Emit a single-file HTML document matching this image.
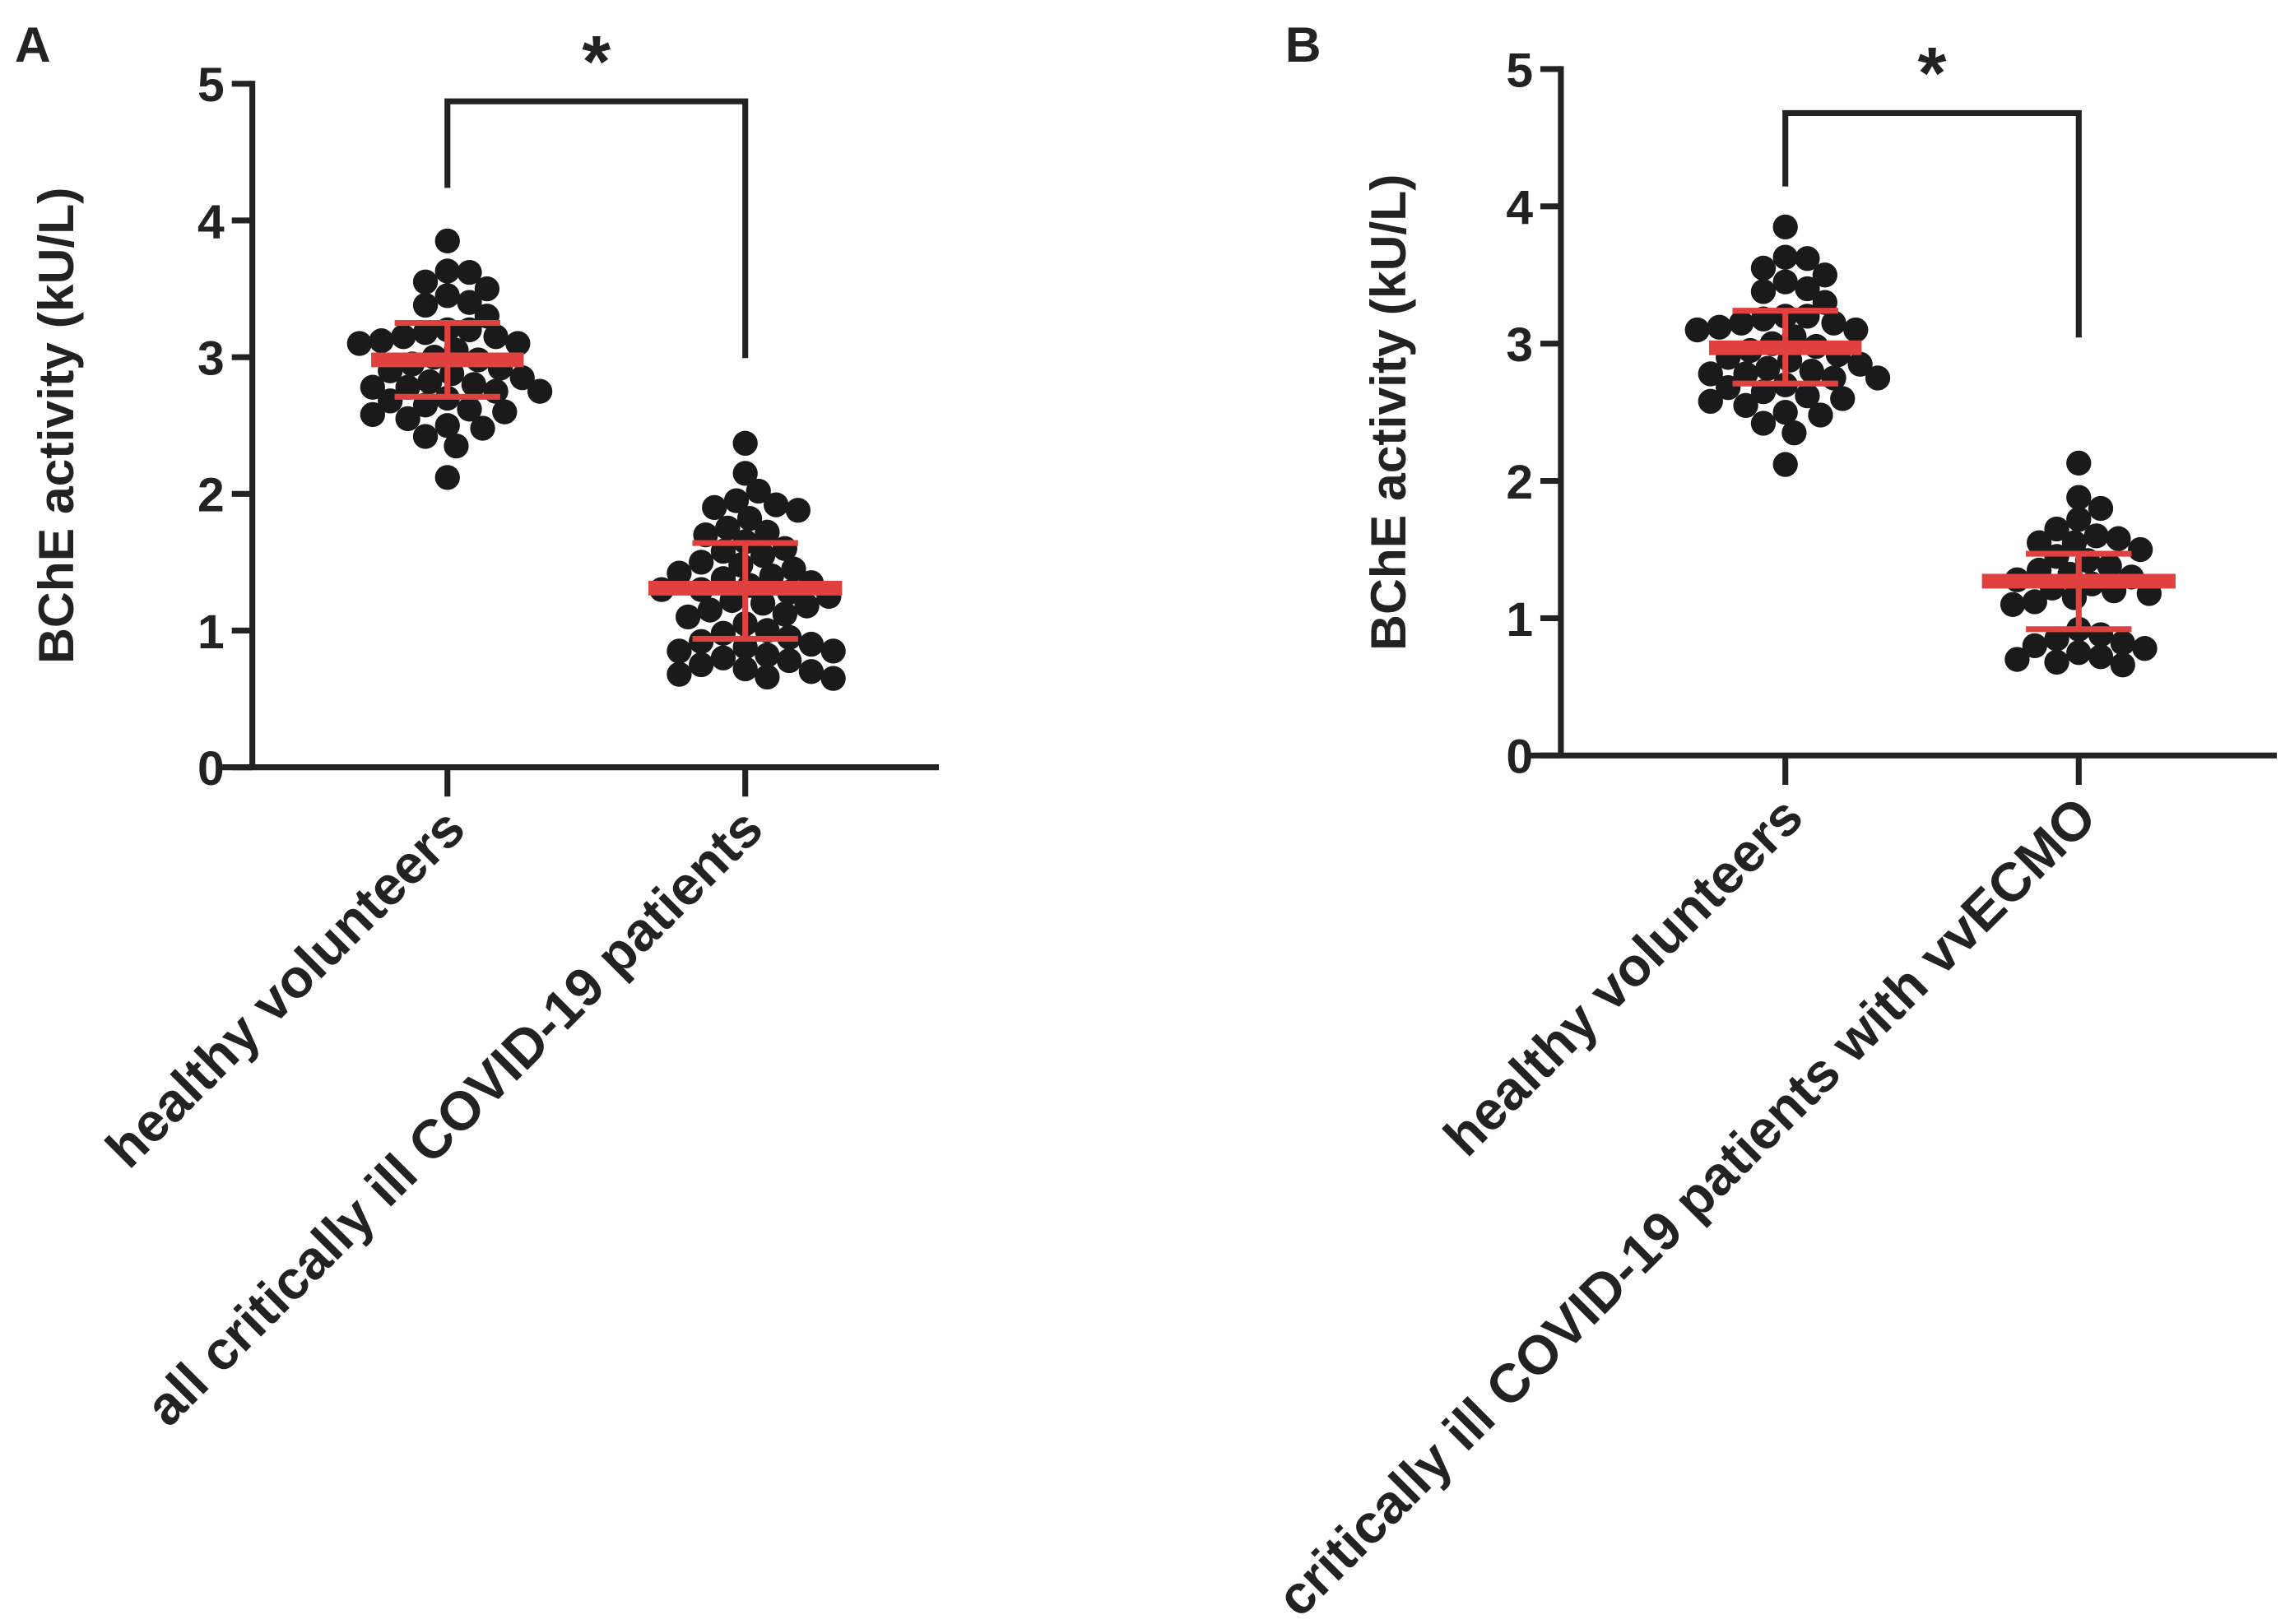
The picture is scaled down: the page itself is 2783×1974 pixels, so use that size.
<!DOCTYPE html>
<html><head><meta charset="utf-8"><style>
html,body{margin:0;padding:0;background:#fff}
svg{display:block}
text{font-family:"Liberation Sans",Arial,sans-serif;fill:#222}
</style></head><body>
<svg id="chart" width="2783" height="1974" viewBox="0 0 1561 1107" xmlns="http://www.w3.org/2000/svg"></svg>
<script>
const categoriesA = ["healthy volunteers", "all critically ill COVID-19 patients"];
const categoriesB = ["healthy volunteers", "critically ill COVID-19 patients with vvECMO"];
const yTicks = [0, 1, 2, 3, 4, 5];
const healthyValues = [3.85,3.63,3.62,3.55,3.5,3.45,3.4,3.38,3.3,3.2,3.2,3.18,3.15,3.15,3.12,3.1,3.1,3.05,3.0,2.98,2.95,2.92,2.9,2.88,2.85,2.82,2.8,2.78,2.78,2.75,2.75,2.7,2.68,2.65,2.62,2.6,2.58,2.55,2.5,2.48,2.42,2.35,2.12];
const covidAllValues = [2.37,2.15,2.02,1.95,1.92,1.9,1.88,1.82,1.75,1.72,1.7,1.65,1.6,1.58,1.55,1.5,1.48,1.45,1.42,1.4,1.38,1.35,1.33,1.3,1.3,1.28,1.25,1.22,1.2,1.18,1.15,1.12,1.1,1.05,1.0,0.98,0.95,0.92,0.9,0.88,0.85,0.85,0.82,0.8,0.78,0.75,0.72,0.7,0.68,0.66,0.65];
const ecmoValues = [2.13,1.88,1.8,1.72,1.65,1.6,1.58,1.55,1.55,1.5,1.45,1.42,1.38,1.35,1.32,1.3,1.28,1.25,1.22,1.2,1.18,1.15,1.12,1.1,0.92,0.88,0.85,0.82,0.8,0.78,0.75,0.72,0.7,0.68,0.66];
const meansA = [2.98, 1.31];
const sdLowA = [2.71, 0.94];
const sdHighA = [3.25, 1.64];
const meansB = [2.97, 1.27];
const sdLowB = [2.71, 0.92];
const sdHighB = [3.24, 1.47];

const NS = "http://www.w3.org/2000/svg";
const svg = document.getElementById('chart');
function mk(tag, attrs, parent, txt){
  const e = document.createElementNS(NS, tag);
  for (const k in attrs) e.setAttribute(k, attrs[k]);
  if (txt !== undefined) e.textContent = txt;
  (parent || svg).appendChild(e);
  return e;
}
function swarm(vals, yf, r){
  const placed = [];
  const sorted = vals.slice().sort((a,b)=>b-a);
  for (const v of sorted){
    const y = yf(v);
    let off = 0;
    for (let k = 0; k < 200; k++){
      const cand = k === 0 ? 0 : (k % 2 ? 1 : -1) * Math.ceil(k/2) * 3;
      if (placed.every(p => Math.hypot(p.x - cand, p.y - y) >= 2*r*0.85)) { off = cand; break; }
    }
    placed.push({x: off, y: y, v: v});
  }
  return placed;
}
function panel(opt){
  const g = mk('g', {}, svg);
  
  
  const y = v => opt.y0 - v * (opt.y0 - opt.y5) / 5;
  const xs = opt.groupX;
  const ln = (x1,y1,x2,y2,w,c,n) => { const l = mk('line',{x1,y1,x2,y2,stroke:c||'#222','stroke-width':w||4},g);   return l; };
  ln(opt.axX, opt.y5 - 2, opt.axX, opt.y0, 4, '#222', 'y-axis-line');
  ln(opt.axX - 22, opt.y0, opt.xEnd, opt.y0, 4, '#222', 'x-axis-line');
  yTicks.forEach(t => {
    ln(opt.axX - 14, y(t), opt.axX, y(t), 4, '#222', 'y-tick');
    const tl = mk('text', {x: opt.axX - 19, y: y(t) + 12, 'text-anchor': 'end', 'font-size': 33, 'font-weight': 'bold'}, g, String(t));
    
    
  });
  xs.forEach((x, i) => {
    ln(x, opt.y0, x, opt.y0 + 20, 4, '#222', 'x-tick');
    const lx = x + 14, ly = opt.y0 + 44;
    const tl = mk('text', {x: lx, y: ly, 'text-anchor': 'end', 'font-size': 37, 'font-weight': 'bold', transform: `rotate(-45 ${lx} ${ly})`}, g, opt.cats[i]);
    
    
  });
  const cy = (opt.y0 + opt.y5)/2;
  const title = mk('text', {x: opt.titleX, y: cy, 'text-anchor': 'middle', 'font-size': 34, 'font-weight': 'bold', transform: `rotate(-90 ${opt.titleX} ${cy})`}, g, 'BChE activity (kU/L)');
  
  
  const pl = mk('text', {x: opt.letterX, y: 42, 'font-size': 34, 'font-weight': 'bold'}, g, opt.letter);
  
  
  opt.series.forEach((vals, i) => {
    swarm(vals, y, 8.5).forEach(p => {
      const c = mk('circle', {cx: xs[i] + p.x, cy: p.y, r: 8.5, fill: '#1a1a1a'}, g);
      
      
    });
  });
  opt.means.forEach((m, i) => {
    const red = '#e0413f';
    const hw = opt.meanHW[i];
    ln(xs[i], y(opt.sdHigh[i]), xs[i], y(opt.sdLow[i]), 4, red, 'sd-error-bar');
    ln(xs[i] - 36, y(opt.sdHigh[i]), xs[i] + 36, y(opt.sdHigh[i]), 4, red, 'sd-upper-cap');
    ln(xs[i] - 36, y(opt.sdLow[i]), xs[i] + 36, y(opt.sdLow[i]), 4, red, 'sd-lower-cap');
    ln(xs[i] - hw, y(m), xs[i] + hw, y(m), 10, red, 'mean-line');
  });
  const br = mk('polyline', {points: `${xs[0]},${opt.brL} ${xs[0]},${opt.brTop} ${xs[1]},${opt.brTop} ${xs[1]},${opt.brR}`, fill: 'none', stroke: '#222', 'stroke-width': 4}, g);
  
  
  const st = mk('text', {x: (xs[0] + xs[1]) / 2, y: opt.brTop - 10, 'text-anchor': 'middle', 'font-size': 50, 'font-weight': 'bold'}, g, '*');
  
  
}
panel({name: 'panel-a', letter: 'A', letterX: 10, cats: categoriesA, axX: 172, xEnd: 640, y0: 523, y5: 57, groupX: [305, 508], titleX: 50,
  series: [healthyValues, covidAllValues], means: meansA, sdLow: sdLowA, sdHigh: sdHighA, meanHW: [52, 66], brTop: 69, brL: 128, brR: 244});
panel({name: 'panel-b', letter: 'B', letterX: 876, cats: categoriesB, axX: 1064, xEnd: 1552, y0: 515, y5: 47, groupX: [1217, 1417], titleX: 958,
  series: [healthyValues, ecmoValues], means: meansB, sdLow: sdLowB, sdHigh: sdHighB, meanHW: [52, 66], brTop: 77, brL: 127, brR: 230});
</script>
</body></html>
